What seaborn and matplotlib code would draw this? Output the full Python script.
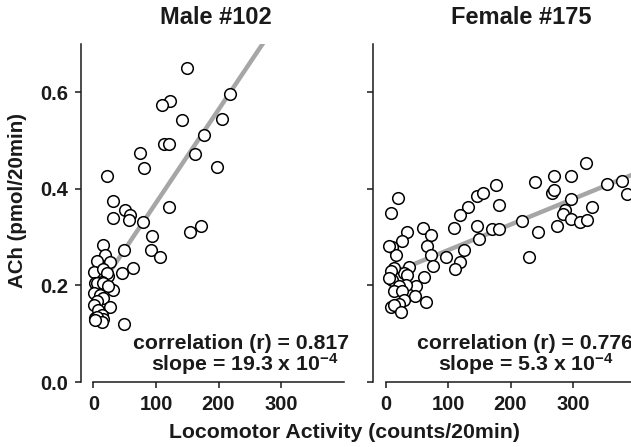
import numpy as np
import pandas as pd
import matplotlib
matplotlib.use("Agg")
import matplotlib.pyplot as plt
import seaborn as sns

# values
male_x = [149, 218, 123, 109, 142, 206, 176, 112, 121, 75, 162, 81, 198, 22,
          31, 51, 59, 31, 56, 79, 120, 172, 155, 94, 92, 107, 48, 63, 45, 48,
          15, 19, 5, 27, 1, 16, 24, 21, 3, 14, 6, 16, 32, 24, 1, 11, 16, 6,
          26, 1, 8, 14, 3, 15, 6, 14, 3]
male_y = [0.650, 0.596, 0.581, 0.573, 0.542, 0.544, 0.512, 0.492, 0.492, 0.474,
          0.473, 0.444, 0.446, 0.426, 0.374, 0.357, 0.346, 0.339, 0.336, 0.332,
          0.362, 0.324, 0.310, 0.303, 0.273, 0.258, 0.273, 0.236, 0.225, 0.120,
          0.283, 0.264, 0.250, 0.249, 0.227, 0.233, 0.219, 0.226, 0.206, 0.208,
          0.205, 0.205, 0.191, 0.198, 0.184, 0.181, 0.174, 0.167, 0.156, 0.160,
          0.150, 0.139, 0.132, 0.130, 0.134, 0.125, 0.129]

female_x = [321, 239, 270, 297, 354, 379, 386, 177, 146, 156, 182, 266, 269,
            297, 331, 287, 284, 297, 311, 323, 218, 274, 244, 230, 132, 119,
            109, 147, 170, 181, 149, 126, 97, 119, 111, 20, 8, 35, 27, 11, 16,
            60, 72, 66, 72, 76, 61, 48, 47, 64, 37, 29, 35, 13, 8, 11, 5, 32,
            21, 13, 27, 29, 21, 8, 13, 24, 5]
female_y = [0.453, 0.414, 0.426, 0.426, 0.411, 0.416, 0.390, 0.409, 0.386,
            0.392, 0.367, 0.392, 0.397, 0.379, 0.362, 0.357, 0.347, 0.338,
            0.331, 0.335, 0.333, 0.323, 0.311, 0.259, 0.362, 0.345, 0.319,
            0.323, 0.316, 0.316, 0.296, 0.274, 0.259, 0.249, 0.234, 0.381,
            0.350, 0.311, 0.291, 0.279, 0.264, 0.318, 0.305, 0.282, 0.263,
            0.241, 0.217, 0.199, 0.179, 0.165, 0.239, 0.226, 0.222, 0.236,
            0.229, 0.212, 0.215, 0.201, 0.198, 0.188, 0.188, 0.170, 0.162,
            0.156, 0.160, 0.145, 0.281]

panel_titles = ["Male #102", "Female #175"]
fit_intercept = [0.178, 0.220]
fit_slope = [19.3e-4, 5.3e-4]
corr_text = ["0.817", "0.776"]
slope_text = ["19.3", "5.3"]
y_ticks = [0.0, 0.2, 0.4, 0.6]
x_ticks = [0, 100, 200, 300]

sns.set_style("ticks")
plt.rcParams['font.family'] = ['Liberation Sans', 'DejaVu Sans']
plt.rcParams['font.weight'] = 'bold'
plt.rcParams['mathtext.fontset'] = 'custom'
plt.rcParams['mathtext.rm'] = 'Liberation Sans:bold'
plt.rcParams['mathtext.bf'] = 'Liberation Sans:bold'
plt.rcParams['mathtext.default'] = 'bf'

W, H = 631, 447
fig = plt.figure(figsize=(W / 100, H / 100), dpi=100)

panels = [
    pd.DataFrame({"activity": male_x, "ach": male_y}),
    pd.DataFrame({"activity": female_x, "ach": female_y}),
]
left_px = [81, 373]
title_px = [216, 521]
ink = "#1a1a1a"

for i, df in enumerate(panels):
    ax = fig.add_axes([left_px[i] / W, 65 / H, 262.5 / W, 338 / H])
    xs = np.array([df["activity"].min(), 400])
    ax.plot(xs, fit_intercept[i] + fit_slope[i] * xs, color="#a6a6a6",
            lw=3.2, zorder=1, solid_capstyle="butt")
    sns.scatterplot(data=df, x="activity", y="ach", ax=ax, s=70,
                    facecolor="white", edgecolor="black", linewidth=1.1,
                    zorder=2)
    ax.set_xlim(-20, 400)
    ax.set_ylim(0, 0.7)
    ax.set_xticks(x_ticks)
    ax.set_yticks(y_ticks)
    ax.set_xticklabels([str(t) for t in x_ticks])
    if i == 0:
        ax.set_yticklabels([f"{t:.1f}" for t in y_ticks])
    else:
        ax.set_yticklabels([])
    ax.set_xlabel("")
    ax.set_ylabel("")
    for side in ["top", "right"]:
        ax.spines[side].set_visible(False)
    for side in ["left", "bottom"]:
        ax.spines[side].set_color(ink)
        ax.spines[side].set_linewidth(1.1)
    ax.spines["bottom"].set_bounds(0, 400)
    ax.tick_params(direction="out", length=4, width=1.1, color=ink,
                   labelsize=14.5, labelcolor=ink, pad=5)
    for lab in ax.get_xticklabels() + ax.get_yticklabels():
        lab.set_fontweight("bold")
    fig.text(title_px[i] / W, 1 - 18 / H, panel_titles[i], ha="center",
             va="center", fontsize=17, fontweight="bold", color=ink)

# annotations (figure pixel positions)
ann_centers = [(241, 245), (525, 526)]
for i in range(2):
    c1, c2 = ann_centers[i]
    fig.text(c1 / W, 1 - 349 / H, f"correlation (r) = {corr_text[i]}",
             ha="center", va="baseline", fontsize=15.3, fontweight="bold",
             color=ink)
    fig.text(c2 / W, 1 - 371 / H, f"slope = {slope_text[i]} x 10$^{{-4}}$",
             ha="center", va="baseline", fontsize=15.3, fontweight="bold",
             color=ink)

fig.text(344 / W, 1 - 433 / H, "Locomotor Activity (counts/20min)",
         ha="center", va="center", fontsize=15.3, fontweight="bold", color=ink)
fig.text(18 / W, 1 - 200 / H, "ACh (pmol/20min)", rotation=90,
         ha="center", va="center", fontsize=14.8, fontweight="bold", color=ink)

fig.savefig("out.png", dpi=100)
